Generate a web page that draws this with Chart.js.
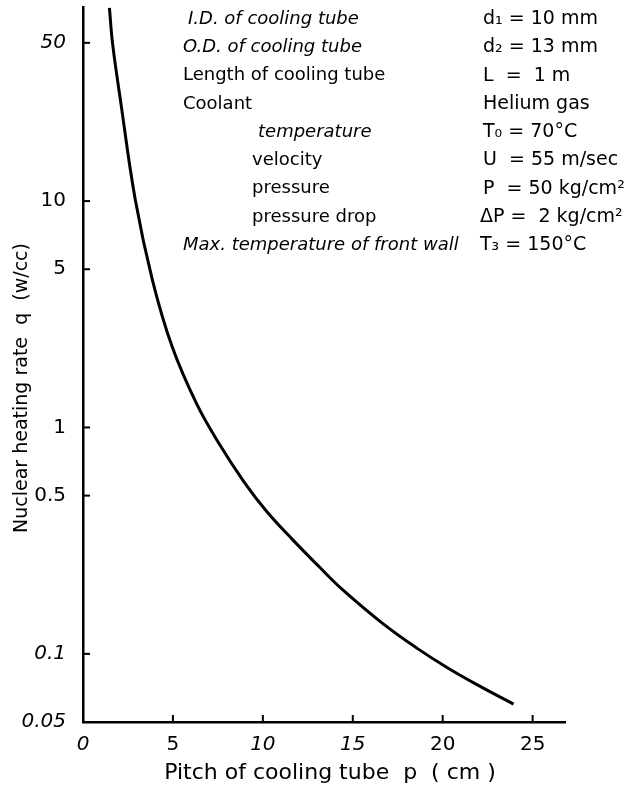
<!DOCTYPE html>
<html><head><meta charset="utf-8">
<script src="https://cdn.jsdelivr.net/npm/chart.js@4.4.1/dist/chart.umd.min.js"></script>
<style>html,body{margin:0;padding:0;background:#fff;}#wrap{width:635px;height:785px;position:relative;}</style>
</head><body><div id="wrap"><canvas id="c" width="635" height="785"></canvas></div>
<script>
// Data
const pitch = [1.47, 1.64, 2.08, 2.91, 3.86, 4.96, 6.30, 7.57, 8.96, 10.24, 11.68, 13.12, 14.40, 16.62, 18.56, 20.33, 22.16, 23.94];
const heatingRate = [71.4, 50, 28.0, 10.1, 4.48, 2.27, 1.28, 0.847, 0.574, 0.423, 0.318, 0.243, 0.193, 0.137, 0.106, 0.0862, 0.0713, 0.060];
const xTicks = [0, 5, 10, 15, 20, 25];
const xTickLabels = ['0', '5', '10', '15', '20', '25'];
const yTicks = [0.05, 0.1, 0.5, 1, 5, 10, 50];
const yTickLabels = ['0.05', '0.1', '0.5', '1', '5', '10', '50'];
const paramNames = ['I.D. of cooling tube', 'O.D. of cooling tube', 'Length of cooling tube', 'Coolant', 'temperature', 'velocity', 'pressure', 'pressure drop', 'Max. temperature of front wall'];
const paramValues = ['d\u2081 = 10 mm', 'd\u2082 = 13 mm', 'L  =  1 m', 'Helium gas', 'T\u2080 = 70\u00B0C', 'U  = 55 m/sec', 'P  = 50 kg/cm\u00B2', '\u0394P =  2 kg/cm\u00B2', 'T\u2083 = 150\u00B0C'];
const xTitle = 'Pitch of cooling tube  p  ( cm )';
const yTitle = 'Nuclear heating rate  q  (w/cc)';

const FONT = "'DejaVu Sans', 'Liberation Sans', sans-serif";
const italicY = [0.05, 0.1, 50];
const italicX = [0, 10, 15];

const inwardTicks = {
  id: 'inwardTicks',
  afterDatasetsDraw(chart) {
    const {ctx, scales: {x, y}, chartArea: a} = chart;
    ctx.save();
    ctx.strokeStyle = '#000';
    ctx.lineWidth = 2;
    x.ticks.forEach(t => {
      if (t.value === 0) return;
      const px = x.getPixelForValue(t.value);
      ctx.beginPath(); ctx.moveTo(px, a.bottom); ctx.lineTo(px, a.bottom - 7); ctx.stroke();
    });
    y.ticks.forEach(t => {
      if (t.value === 0.05) return;
      const py = y.getPixelForValue(t.value);
      ctx.beginPath(); ctx.moveTo(a.left, py); ctx.lineTo(a.left + 7, py); ctx.stroke();
    });
    ctx.restore();
  }
};

const textBlock = {
  id: 'textBlock',
  afterDraw(chart) {
    const ctx = chart.ctx;
    ctx.save();
    ctx.fillStyle = '#000';
    ctx.textBaseline = 'middle';
    ctx.textAlign = 'left';
    const rowY0 = 19, rowStep = 28.3;
    const leftX = [188, 183, 183, 183, 258, 252, 252, 252, 183];
    const italicRows = [0, 1, 4, 8];
    paramNames.forEach((s, i) => {
      ctx.font = (italicRows.includes(i) ? 'italic ' : '') + '18px ' + FONT;
      ctx.fillText(s, leftX[i], rowY0 + i * rowStep);
    });
    ctx.font = '19px ' + FONT;
    paramValues.forEach((s, i) => {
      ctx.fillText(s, i >= 7 ? 480 : 483, rowY0 + i * rowStep);
    });
    // axis titles
    ctx.textAlign = 'center';
    ctx.font = '22px ' + FONT;
    ctx.fillText(xTitle, 330, 773);
    ctx.save();
    ctx.translate(22, 388);
    ctx.rotate(-Math.PI / 2);
    ctx.font = '19px ' + FONT;
    ctx.fillText(yTitle, 0, 0);
    ctx.restore();
    ctx.restore();
  }
};

new Chart(document.getElementById('c'), {
  type: 'line',
  data: {
    datasets: [{
      data: pitch.map((p, i) => ({x: p, y: heatingRate[i]})),
      borderColor: '#000',
      borderWidth: 3,
      pointRadius: 0,
      fill: false,
      tension: 0.4
    }]
  },
  options: {
    responsive: false,
    animation: false,
    devicePixelRatio: 1,
    layout: {padding: {left: 0, right: 70, top: 7, bottom: 0}},
    plugins: {legend: {display: false}, tooltip: {enabled: false}},
    scales: {
      x: {
        type: 'linear',
        min: 0, max: 26.8,
        grid: {display: false},
        border: {display: true, color: '#000', width: 2.5},
        afterBuildTicks(s) { s.ticks = xTicks.map(v => ({value: v})); },
        afterFit(s) { s.height = 63; s.paddingLeft = 0; s.paddingRight = 0; },
        ticks: {
          color: '#000',
          padding: 3,
          font: ctx => ({family: FONT, size: 20, style: italicX.includes(ctx.tick && ctx.tick.value) ? 'italic' : 'normal'}),
          callback: v => { const i = xTicks.indexOf(v); return i >= 0 ? xTickLabels[i] : ''; }
        }
      },
      y: {
        type: 'logarithmic',
        min: 0.05, max: 72,
        grid: {display: false},
        border: {display: true, color: '#000', width: 2.5},
        afterBuildTicks(s) { s.ticks = yTicks.map(v => ({value: v})); },
        afterFit(s) { s.width = 83; s.paddingTop = 0; s.paddingBottom = 0; },
        ticks: {
          color: '#000',
          padding: 9,
          font: ctx => ({family: FONT, size: 20, style: italicY.includes(ctx.tick && ctx.tick.value) ? 'italic' : 'normal'}),
          callback: v => { const i = yTicks.indexOf(v); return i >= 0 ? yTickLabels[i] : ''; }
        }
      }
    }
  },
  plugins: [inwardTicks, textBlock]
});
</script>
</body></html>
